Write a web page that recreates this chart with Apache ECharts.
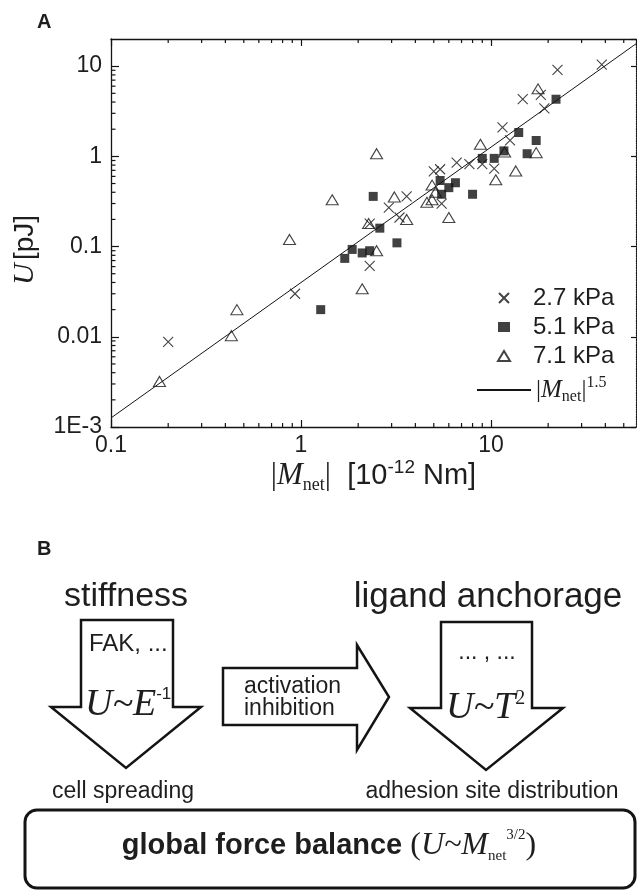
<!DOCTYPE html>
<html><head><meta charset="utf-8">
<script src="https://cdn.jsdelivr.net/npm/echarts@6/dist/echarts.min.js"></script>
<style>html,body{margin:0;padding:0;background:#fff}#c{width:637px;height:890px}</style>
</head><body><div id="c"></div>
<script>
// ---------- data ----------
const seriesNames = ['2.7 kPa', '5.1 kPa', '7.1 kPa'];
const fitName = '|Mnet|^1.5';
const s27 = [[22.4,9.1],[38.3,10.4],[14.7,4.3],[18.3,4.8],[19.1,3.4],[11.5,2.1],[12.6,1.5],[6.6,0.85],[7.7,0.82],[9.0,0.82],[10.4,0.73],[5.0,0.68],[5.4,0.72],[3.6,0.36],[2.9,0.27],[3.3,0.21],[5.5,0.30],[2.3,0.18],[2.3,0.061],[0.93,0.030],[0.20,0.0088]];
const s51 = [[22.0,4.3],[14.0,1.84],[17.3,1.5],[15.5,1.07],[9.0,0.95],[10.4,0.95],[11.7,1.15],[5.4,0.54],[6.5,0.51],[6.0,0.45],[5.5,0.38],[8.0,0.38],[2.4,0.36],[2.6,0.16],[3.2,0.11],[1.86,0.093],[1.7,0.074],[2.1,0.085],[2.3,0.09],[1.27,0.020]];
const s71 = [[17.7,5.6],[17.3,1.1],[8.8,1.36],[11.8,1.12],[13.5,0.69],[10.6,0.55],[2.5,1.07],[1.46,0.33],[3.1,0.355],[4.9,0.48],[5.1,0.40],[4.6,0.31],[4.9,0.33],[6.0,0.21],[3.6,0.20],[2.27,0.18],[2.5,0.09],[2.1,0.034],[0.87,0.12],[0.46,0.020],[0.43,0.0103],[0.18,0.0032]];
const fitLine = [[0.1,0.00126],[58,17.7]];
const xTickValues = [0.1, 1, 10];
const xTickLabels = ['0.1', '1', '10'];
const yTickValues = [0.001, 0.01, 0.1, 1, 10];
const yTickLabels = ['1E-3', '0.01', '0.1', '1', '10'];
const xRange = [0.1, 58];
const yRange = [0.001, 20];

// ---------- rendering ----------
const SANS = '"Liberation Sans", Arial, sans-serif';
const SERIF = '"Liberation Serif", "Times New Roman", serif';
const INK = '#141414';
const TXT = '#1e1e1e';
const CROSS = 'path://M0,0L10,10M10,0L0,10';

function logLabel(values, labels) {
  return function (v) {
    for (let i = 0; i < values.length; i++) {
      if (Math.abs(Math.log10(v) - Math.log10(values[i])) < 1e-6) return labels[i];
    }
    return '';
  };
}

const minorData = [];
for (let k = -1; k <= 1; k++) for (let m = 2; m <= 9; m++) {
  const v = m * Math.pow(10, k); if (v < xRange[1]) minorData.push([v, yRange[0], 0]);
}
for (let k = -3; k <= 1; k++) for (let m = 2; m <= 9; m++) {
  const v = m * Math.pow(10, k); if (v < yRange[1]) minorData.push([xRange[0], v, 1]);
}

const chart = echarts.init(document.getElementById('c'));
const axisLine = { lineStyle: { color: INK, width: 1.3 } };
chart.setOption({
  animation: false,
  backgroundColor: '#fff',
  grid: { left: 111, top: 39, right: 1, bottom: 463 },
  xAxis: [{
    type: 'log', min: xRange[0], max: xRange[1], position: 'bottom',
    axisLine: axisLine,
    axisTick: { inside: true, length: 7, lineStyle: { color: INK, width: 1.2 } },
    axisLabel: { formatter: logLabel(xTickValues, xTickLabels), fontFamily: SANS, fontSize: 23, color: TXT, margin: 7, showMaxLabel: false },
    splitLine: { show: false },
    name: '{b||}{m|M}{s|net}{b||}{t|  [10}{p|-12}{t| Nm]}',
    nameLocation: 'middle', nameGap: 15,
    nameTextStyle: {
      rich: {
        b: { fontFamily: SERIF, fontSize: 31, color: TXT, lineHeight: 36 },
        m: { fontFamily: SERIF, fontStyle: 'italic', fontSize: 31, color: TXT, lineHeight: 36 },
        s: { fontFamily: SERIF, fontSize: 18, color: TXT, verticalAlign: 'bottom', lineHeight: 16 },
        t: { fontFamily: SANS, fontSize: 29, color: TXT, lineHeight: 36 },
        p: { fontFamily: SANS, fontSize: 19, color: TXT, verticalAlign: 'top', lineHeight: 16 }
      }
    }
  }, {
    type: 'log', min: xRange[0], max: xRange[1], position: 'top',
    axisLine: axisLine,
    axisTick: { inside: true, length: 7, lineStyle: { color: INK, width: 1.2 } },
    axisLabel: { show: false }, splitLine: { show: false }
  }],
  yAxis: [{
    type: 'log', min: yRange[0], max: yRange[1], position: 'left',
    axisLine: axisLine,
    axisTick: { inside: true, length: 8, lineStyle: { color: INK, width: 1.2 } },
    axisLabel: { formatter: logLabel(yTickValues, yTickLabels), fontFamily: SANS, fontSize: 23, color: TXT, margin: 9, showMaxLabel: false },
    splitLine: { show: false },
    name: '{i|U} {t|[pJ]}', nameLocation: 'middle', nameGap: 71, nameRotate: 90,
    nameTextStyle: {
      padding: [0, 34, 0, 0],
      rich: {
        i: { fontFamily: SERIF, fontStyle: 'italic', fontSize: 30, color: TXT },
        t: { fontFamily: SANS, fontSize: 28, color: TXT }
      }
    }
  }, {
    type: 'log', min: yRange[0], max: yRange[1], position: 'right',
    axisLine: { lineStyle: { color: INK, width: 1.2, type: 'dotted' } },
    axisTick: { inside: true, length: 5, lineStyle: { color: INK, width: 1.2 } },
    axisLabel: { show: false }, splitLine: { show: false }
  }],
  legend: [{
    data: seriesNames, orient: 'vertical', left: 492, top: 281, itemWidth: 12, itemHeight: 10, itemGap: 5,
    selectedMode: false,
    textStyle: { fontFamily: SANS, fontSize: 24, color: TXT, padding: [0, 0, 0, 18] }
  }, {
    data: [fitName], left: 471, top: 370, itemWidth: 54, itemHeight: 2, selectedMode: false,
    formatter: function () { return '{b||}{m|M}{s|net}{b||}{p|1.5}'; },
    textStyle: {
      padding: [0, 0, 0, 0],
      rich: {
        b: { fontFamily: SERIF, fontSize: 25, color: TXT, lineHeight: 30 },
        m: { fontFamily: SERIF, fontStyle: 'italic', fontSize: 25, color: TXT, lineHeight: 30 },
        s: { fontFamily: SERIF, fontSize: 16, color: TXT, verticalAlign: 'bottom', lineHeight: 14 },
        p: { fontFamily: SERIF, fontSize: 16, color: TXT, verticalAlign: 'top', lineHeight: 14 }
      }
    }
  }],
  series: [{
    type: 'line', name: fitName, data: fitLine, symbol: 'none', showSymbol: false,
    lineStyle: { color: INK, width: 1 }, itemStyle: { color: INK }, z: 2
  }, {
    type: 'scatter', name: seriesNames[0], data: s27, symbol: CROSS, symbolSize: 10,
    itemStyle: { color: 'transparent', borderColor: INK, borderWidth: 1.1 }, z: 3
  }, {
    type: 'scatter', name: seriesNames[1], data: s51, symbol: 'rect', symbolSize: 9,
    itemStyle: { color: '#111' }, z: 3
  }, {
    type: 'scatter', name: seriesNames[2], data: s71, symbol: 'triangle', symbolSize: [12, 10],
    itemStyle: { color: 'transparent', borderColor: INK, borderWidth: 1.1 }, z: 3
  }, {
    type: 'custom', name: 'minor ticks', data: minorData, silent: true, z: 4,
    encode: { x: 0, y: 1 },
    renderItem: function (params, api) {
      const cs = params.coordSys;
      const kind = api.value(2);
      const p = api.coord([api.value(0), api.value(1)]);
      const st = { stroke: INK, lineWidth: 1.2 };
      if (kind === 0) {
        const x = p[0];
        return { type: 'group', children: [
          { type: 'line', shape: { x1: x, y1: cs.y + cs.height, x2: x, y2: cs.y + cs.height - 4 }, style: st },
          { type: 'line', shape: { x1: x, y1: cs.y, x2: x, y2: cs.y + 4 }, style: st }
        ] };
      }
      const y = p[1];
      return { type: 'line', shape: { x1: cs.x, y1: y, x2: cs.x + 4.5, y2: y }, style: st };
    }
  }],
  graphic: [
    { type: 'text', left: 37, top: 12, style: { text: 'A', font: 'bold 20px ' + SANS, fill: TXT } },
    { type: 'text', left: 37, top: 539, style: { text: 'B', font: 'bold 20px ' + SANS, fill: TXT } },
    { type: 'text', x: 126, y: 597, style: { text: 'stiffness', font: '34px ' + SANS, fill: TXT, align: 'center', verticalAlign: 'middle' } },
    { type: 'text', x: 488, y: 597, style: { text: 'ligand anchorage', font: '35px ' + SANS, fill: TXT, align: 'center', verticalAlign: 'middle' } },
    { type: 'polygon', shape: { points: [[81,620],[173,620],[173,707],[201,707],[126,768],[51,707],[81,707]] },
      style: { fill: '#fff', stroke: INK, lineWidth: 2.5 } },
    { type: 'polygon', shape: { points: [[223,668],[357,668],[357,645],[389,697],[357,750],[357,725],[223,725]] },
      style: { fill: '#fff', stroke: INK, lineWidth: 2.5 } },
    { type: 'polygon', shape: { points: [[441,622],[532,622],[532,708],[563,708],[486,770],[410,708],[441,708]] },
      style: { fill: '#fff', stroke: INK, lineWidth: 2.5 } },
    { type: 'text', x: 89, y: 644, style: { text: 'FAK, ...', font: '24px ' + SANS, fill: TXT, verticalAlign: 'middle' } },
    { type: 'text', x: 85, y: 705, style: { text: '{a|U~E}{b|-1}', verticalAlign: 'middle', fill: TXT,
      rich: { a: { fontFamily: SERIF, fontStyle: 'italic', fontSize: 38, lineHeight: 38, fill: TXT },
              b: { fontFamily: SANS, fontSize: 17, verticalAlign: 'top', lineHeight: 17, fill: TXT } } } },
    { type: 'text', x: 244, y: 687, style: { text: 'activation', font: '23px ' + SANS, fill: TXT, verticalAlign: 'middle' } },
    { type: 'text', x: 244, y: 709, style: { text: 'inhibition', font: '23px ' + SANS, fill: TXT, verticalAlign: 'middle' } },
    { type: 'text', x: 487, y: 653, style: { text: '... , ...', font: '23px ' + SANS, fill: TXT, align: 'center', verticalAlign: 'middle' } },
    { type: 'text', x: 446, y: 708, style: { text: '{a|U~T}{b|2}', verticalAlign: 'middle', fill: TXT,
      rich: { a: { fontFamily: SERIF, fontStyle: 'italic', fontSize: 38, lineHeight: 38, fill: TXT },
              b: { fontFamily: SERIF, fontSize: 20, verticalAlign: 'top', lineHeight: 17, fill: TXT } } } },
    { type: 'text', x: 123, y: 792, style: { text: 'cell spreading', font: '23px ' + SANS, fill: TXT, align: 'center', verticalAlign: 'middle' } },
    { type: 'text', x: 492, y: 792, style: { text: 'adhesion site distribution', font: '23px ' + SANS, fill: TXT, align: 'center', verticalAlign: 'middle' } },
    { type: 'rect', shape: { x: 25, y: 810, width: 610, height: 78, r: 12 },
      style: { fill: 'none', stroke: INK, lineWidth: 3 } },
    { type: 'text', x: 329, y: 846, style: { text: '{g|global force balance }{p|(}{i|U~M}{s|net}{u|3/2}{p|)}', align: 'center', verticalAlign: 'middle', fill: TXT,
      rich: { g: { fontFamily: SANS, fontWeight: 'bold', fontSize: 29, lineHeight: 36, fill: TXT },
              p: { fontFamily: SERIF, fontSize: 32, lineHeight: 36, fill: TXT },
              i: { fontFamily: SERIF, fontStyle: 'italic', fontSize: 32, lineHeight: 36, fill: TXT },
              s: { fontFamily: SERIF, fontSize: 15, verticalAlign: 'bottom', lineHeight: 14, fill: TXT },
              u: { fontFamily: SERIF, fontSize: 15, verticalAlign: 'top', lineHeight: 14, fill: TXT } } } }
  ]
});
</script>
</body></html>
